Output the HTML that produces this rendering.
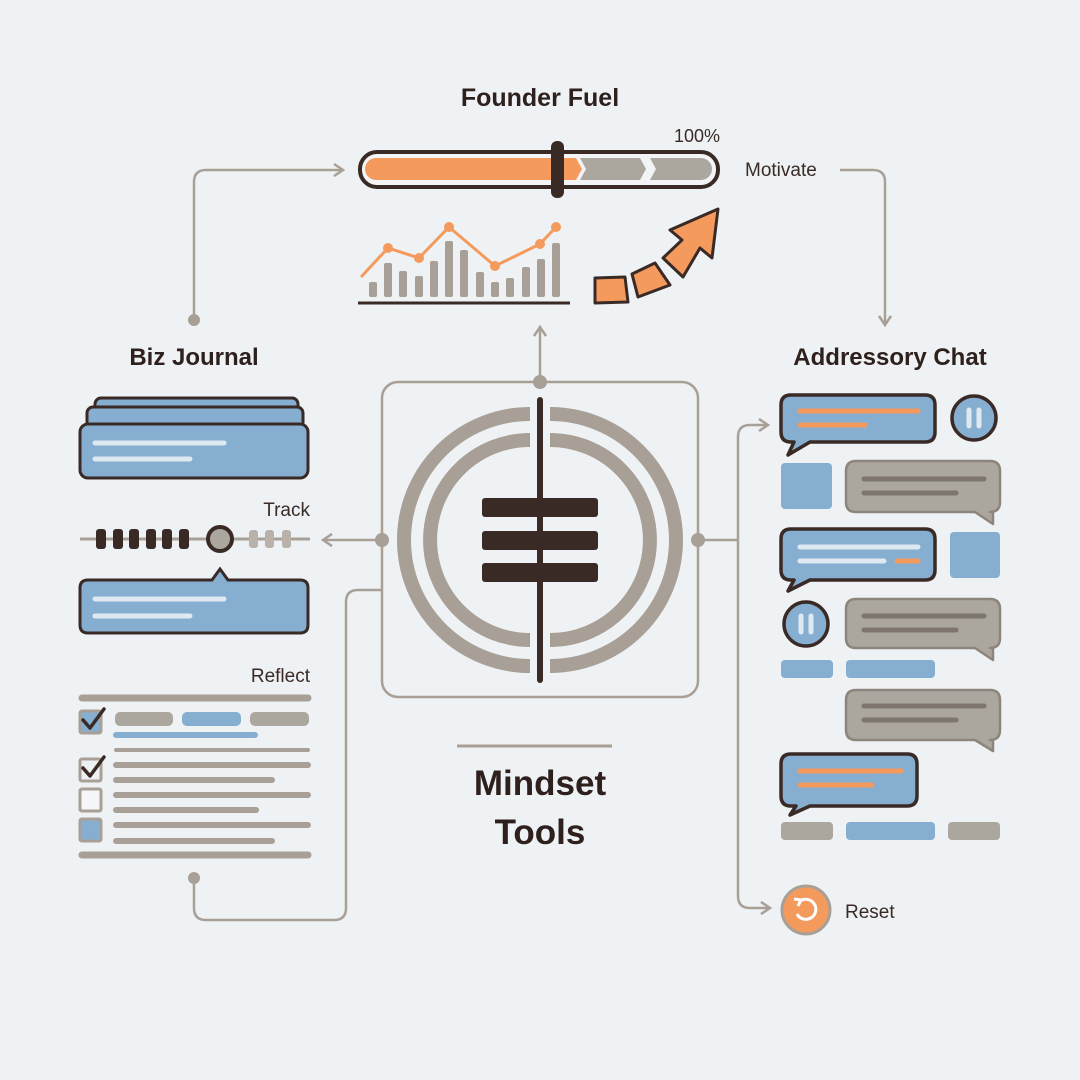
<!DOCTYPE html>
<html><head><meta charset="utf-8"><style>
html,body{margin:0;padding:0;background:#eef1f4;}
svg{display:block;font-family:"Liberation Sans",sans-serif;}
</style></head><body>
<svg width="1080" height="1080" viewBox="0 0 1080 1080">
<defs>
<marker id="ar" markerWidth="14" markerHeight="14" refX="11" refY="7" orient="auto" markerUnits="userSpaceOnUse"><path d="M2,1 L11,7 L2,13" fill="none" stroke="#a8a096" stroke-width="2.5"/></marker>
</defs>
<rect width="1080" height="1080" fill="#eff2f4"/>
<!-- titles -->
<text x="540" y="106" text-anchor="middle" font-size="25" font-weight="bold" fill="#2e201c">Founder Fuel</text>
<text x="194" y="365" text-anchor="middle" font-size="24" font-weight="bold" fill="#2e201c">Biz Journal</text>
<text x="890" y="365" text-anchor="middle" font-size="24" font-weight="bold" fill="#2e201c">Addressory Chat</text>
<text x="720" y="142" text-anchor="end" font-size="18" fill="#3a2a26">100%</text>
<text x="745" y="176" font-size="19" fill="#3a2a26">Motivate</text>
<text x="310" y="516" text-anchor="end" font-size="19" fill="#3a2a26">Track</text>
<text x="310" y="682" text-anchor="end" font-size="19" fill="#3a2a26">Reflect</text>
<text x="845" y="918" font-size="19" fill="#3a2a26">Reset</text>
<line x1="457" y1="746" x2="612" y2="746" stroke="#a8a096" stroke-width="3"/>
<text x="540" y="795" text-anchor="middle" font-size="35" font-weight="bold" fill="#2e201c">Mindset</text>
<text x="540" y="844" text-anchor="middle" font-size="35" font-weight="bold" fill="#2e201c">Tools</text>

<!-- connectors -->
<g fill="none" stroke="#a8a096" stroke-width="2.5">
<path d="M194,320 V182 Q194,170 206,170 H343" marker-end="url(#ar)"/>
<path d="M840,170 H873 Q885,170 885,182 V325" marker-end="url(#ar)"/>
<path d="M540,382 V327" marker-end="url(#ar)"/>
<path d="M382,540 H323" marker-end="url(#ar)"/>
<path d="M698,540 H738"/>
<path d="M738,540 V437 Q738,425 750,425 H768" marker-end="url(#ar)"/>
<path d="M738,540 V896 Q738,908 750,908 H770" marker-end="url(#ar)"/>
<path d="M382,590 H358 Q346,590 346,602 V908 Q346,920 334,920 H206 Q194,920 194,908 V878"/>
<rect x="382" y="382" width="316" height="315" rx="16"/>
</g>
<g fill="#a8a096">
<circle cx="194" cy="320" r="6"/><circle cx="194" cy="878" r="6"/>
<circle cx="540" cy="382" r="7"/><circle cx="382" cy="540" r="7"/><circle cx="698" cy="540" r="7"/>
</g>

<!-- center icon -->
<g fill="none" stroke="#a8a096" stroke-width="14">
<path d="M530,414 A126,126 0 0 0 530,666"/><path d="M550,414 A126,126 0 0 1 550,666"/>
<path d="M530,440 A100,100 0 0 0 530,640"/><path d="M550,440 A100,100 0 0 1 550,640"/>
</g>
<rect x="537" y="397" width="6" height="286" rx="3" fill="#3a2a26"/>
<g fill="#3a2a26"><rect x="482" y="498" width="116" height="19" rx="3"/><rect x="482" y="531" width="116" height="19" rx="3"/><rect x="482" y="563" width="116" height="19" rx="3"/></g>

<!-- progress bar -->
<rect x="360" y="152" width="358" height="35" rx="17" fill="#f3f4f5" stroke="#3a2a26" stroke-width="4"/>
<path d="M376,158 H576 L582,169 L576,180 H376 A11,11 0 0 1 376,158Z" fill="#f49a5c"/>
<path d="M580,158 H640 L646,169 L640,180 H580 L586,169Z" fill="#aba69e"/>
<path d="M650,158 H701 A11,11 0 0 1 701,180 H650 L656,169Z" fill="#aba69e"/>
<rect x="551" y="141" width="13" height="57" rx="6" fill="#3a2a26"/>

<!-- chart -->
<g fill="#a8a096">
<rect x="369" y="282" width="8" height="15" rx="2"/><rect x="384" y="263" width="8" height="34" rx="2"/><rect x="399" y="271" width="8" height="26" rx="2"/><rect x="415" y="276" width="8" height="21" rx="2"/><rect x="430" y="261" width="8" height="36" rx="2"/><rect x="445" y="241" width="8" height="56" rx="2"/><rect x="460" y="250" width="8" height="47" rx="2"/><rect x="476" y="272" width="8" height="25" rx="2"/><rect x="491" y="282" width="8" height="15" rx="2"/><rect x="506" y="278" width="8" height="19" rx="2"/><rect x="522" y="267" width="8" height="30" rx="2"/><rect x="537" y="259" width="8" height="38" rx="2"/><rect x="552" y="243" width="8" height="54" rx="2"/>
</g>
<line x1="358" y1="303" x2="570" y2="303" stroke="#3a2a26" stroke-width="3"/>
<polyline points="361,277 388,248 419,258 449,227 495,266 540,244 556,227" fill="none" stroke="#f49a5c" stroke-width="3"/>
<g fill="#f49a5c"><circle cx="388" cy="248" r="5"/><circle cx="419" cy="258" r="5"/><circle cx="449" cy="227" r="5"/><circle cx="495" cy="266" r="5"/><circle cx="540" cy="244" r="5"/><circle cx="556" cy="227" r="5"/></g>
<g fill="#f49a5c" stroke="#3a2a26" stroke-width="3" stroke-linejoin="round">
<polygon points="595,278 625,277 628,302 595,303"/>
<polygon points="632,274 655,263 670,285 638,297"/>
<polygon points="663,258 682,240 670,230 718,209 712,258 700,248 683,277"/>
</g>

<!-- left: cards -->
<g stroke="#3a2a26" stroke-width="3" fill="#86aed0">
<rect x="95" y="398" width="203" height="30" rx="6"/>
<rect x="87" y="407" width="216" height="30" rx="6"/>
<rect x="80" y="424" width="228" height="54" rx="8"/>
<path d="M88,580 H212 L220,569 L228,580 H300 Q308,580 308,588 V625 Q308,633 300,633 H88 Q80,633 80,625 V588 Q80,580 88,580Z"/>
</g>
<g stroke="#dfe9f2" stroke-width="5" stroke-linecap="round">
<line x1="95" y1="443" x2="224" y2="443"/><line x1="95" y1="459" x2="190" y2="459"/>
<line x1="95" y1="599" x2="224" y2="599"/><line x1="95" y1="616" x2="190" y2="616"/>
</g>
<!-- track -->
<line x1="80" y1="539" x2="310" y2="539" stroke="#a8a096" stroke-width="3"/>
<g fill="#3a2a26"><rect x="96" y="529" width="10" height="20" rx="3"/><rect x="113" y="529" width="10" height="20" rx="3"/><rect x="129" y="529" width="10" height="20" rx="3"/><rect x="146" y="529" width="10" height="20" rx="3"/><rect x="162" y="529" width="10" height="20" rx="3"/><rect x="179" y="529" width="10" height="20" rx="3"/></g>
<g fill="#b8b2aa"><rect x="249" y="530" width="9" height="18" rx="3"/><rect x="265" y="530" width="9" height="18" rx="3"/><rect x="282" y="530" width="9" height="18" rx="3"/></g>
<circle cx="220" cy="539" r="12" fill="#aba69e" stroke="#3a2a26" stroke-width="4"/>
<!-- checklist -->
<g stroke="#a8a096" stroke-linecap="round">
<line x1="82" y1="698" x2="308" y2="698" stroke-width="7"/>
<line x1="116" y1="750" x2="308" y2="750" stroke-width="4"/>
<line x1="116" y1="765" x2="308" y2="765" stroke-width="6"/><line x1="116" y1="780" x2="272" y2="780" stroke-width="6"/>
<line x1="116" y1="795" x2="308" y2="795" stroke-width="6"/><line x1="116" y1="810" x2="256" y2="810" stroke-width="6"/>
<line x1="116" y1="825" x2="308" y2="825" stroke-width="6"/><line x1="116" y1="841" x2="272" y2="841" stroke-width="6"/>
<line x1="82" y1="855" x2="308" y2="855" stroke-width="7"/>
</g>
<line x1="116" y1="735" x2="255" y2="735" stroke="#86aed0" stroke-width="6" stroke-linecap="round"/>
<rect x="115" y="712" width="58" height="14" rx="5" fill="#aba69e"/>
<rect x="182" y="712" width="59" height="14" rx="5" fill="#86aed0"/>
<rect x="250" y="712" width="59" height="14" rx="5" fill="#aba69e"/>
<g stroke="#a8a096" stroke-width="3">
<rect x="80" y="711" width="21" height="22" rx="2" fill="#86aed0"/>
<rect x="80" y="759" width="21" height="22" rx="2" fill="#eef1f4"/>
<rect x="80" y="789" width="21" height="22" rx="2" fill="#f6f7f8"/>
<rect x="80" y="819" width="21" height="22" rx="2" fill="#86aed0"/>
</g>
<g fill="none" stroke="#3a2a26" stroke-width="3.5" stroke-linecap="round" stroke-linejoin="round">
<path d="M83,720 L90,728 L104,709"/><path d="M83,768 L90,776 L104,757"/>
</g>

<!-- right: chat -->
<g stroke="#3a2a26" stroke-width="3.5" fill="#86aed0" stroke-linejoin="round">
<path d="M791,395 H925 Q935,395 935,405 V432 Q935,442 925,442 H810 L788,455 L794,442 H791 Q781,442 781,432 V405 Q781,395 791,395Z"/>
<path d="M791,529 H925 Q935,529 935,539 V570 Q935,580 925,580 H810 L788,591 L794,580 H791 Q781,580 781,570 V539 Q781,529 791,529Z"/>
<path d="M791,754 H907 Q917,754 917,764 V796 Q917,806 907,806 H810 L790,815 L796,806 H791 Q781,806 781,796 V764 Q781,754 791,754Z"/>
<circle cx="974" cy="418" r="22"/><circle cx="806" cy="624" r="22"/>
</g>
<g stroke="#8c857c" stroke-width="2.5" fill="#aba69e" stroke-linejoin="round">
<path d="M856,461 H990 Q1000,461 1000,471 V502 Q1000,512 990,512 H993 L993,524 L975,512 H856 Q846,512 846,502 V471 Q846,461 856,461Z"/>
<path d="M856,599 H990 Q1000,599 1000,609 V638 Q1000,648 990,648 H993 L993,660 L975,648 H856 Q846,648 846,638 V609 Q846,599 856,599Z"/>
<path d="M856,690 H990 Q1000,690 1000,700 V730 Q1000,740 990,740 H993 L993,751 L975,740 H856 Q846,740 846,730 V700 Q846,690 856,690Z"/>
</g>
<g stroke="#7e766e" stroke-width="5" stroke-linecap="round">
<line x1="864" y1="479" x2="984" y2="479"/><line x1="864" y1="493" x2="956" y2="493"/>
<line x1="864" y1="616" x2="984" y2="616"/><line x1="864" y1="630" x2="956" y2="630"/>
<line x1="864" y1="706" x2="984" y2="706"/><line x1="864" y1="720" x2="956" y2="720"/>
</g>
<g stroke="#f49a5c" stroke-width="5" stroke-linecap="round">
<line x1="800" y1="411" x2="918" y2="411"/><line x1="800" y1="425" x2="865" y2="425"/>
<line x1="897" y1="561" x2="918" y2="561"/>
<line x1="800" y1="771" x2="901" y2="771"/><line x1="800" y1="785" x2="872" y2="785"/>
</g>
<g stroke="#dfe9f2" stroke-width="5" stroke-linecap="round">
<line x1="800" y1="547" x2="918" y2="547"/><line x1="800" y1="561" x2="884" y2="561"/>
<line x1="969" y1="410" x2="969" y2="426"/><line x1="979" y1="410" x2="979" y2="426"/>
<line x1="801" y1="616" x2="801" y2="632"/><line x1="811" y1="616" x2="811" y2="632"/>
</g>
<g fill="#86aed0">
<rect x="781" y="463" width="51" height="46" rx="4"/><rect x="950" y="532" width="50" height="46" rx="4"/>
<rect x="781" y="660" width="52" height="18" rx="4"/><rect x="846" y="660" width="89" height="18" rx="4"/>
<rect x="846" y="822" width="89" height="18" rx="4"/>
</g>
<g fill="#aba69e"><rect x="781" y="822" width="52" height="18" rx="4"/><rect x="948" y="822" width="52" height="18" rx="4"/></g>
<circle cx="806" cy="910" r="24" fill="#f49a5c" stroke="#a8a096" stroke-width="3"/>
<path d="M799,902 A10,10 0 1 1 797,914" fill="none" stroke="#fff" stroke-width="3"/>
<path d="M794,899 L801,900 L798,906" fill="none" stroke="#fff" stroke-width="3"/>
</svg>
</body></html>
